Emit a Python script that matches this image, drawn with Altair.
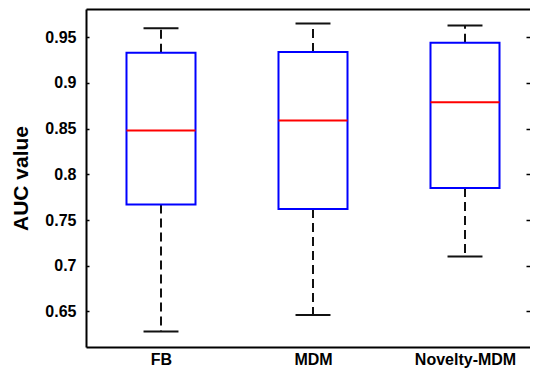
import altair as alt
import pandas as pd

# ---- data ----
methods = ["FB", "MDM", "Novelty-MDM"]
positions = [1, 2, 3]
whisker_low = [0.628, 0.646, 0.710]
q1 = [0.767, 0.762, 0.785]
median = [0.848, 0.859, 0.879]
q3 = [0.933, 0.934, 0.944]
whisker_high = [0.960, 0.965, 0.963]
y_ticks = [0.65, 0.7, 0.75, 0.8, 0.85, 0.9, 0.95]

df = pd.DataFrame({
    "method": methods,
    "pos": positions,
    "low": whisker_low,
    "q1": q1,
    "median": median,
    "q3": q3,
    "high": whisker_high,
})

W, H = 444, 338
STEP = 152.0
x_min = 1 - 75 / STEP
xscale = alt.Scale(domain=[x_min, x_min + W / STEP], nice=False, zero=False)
yscale = alt.Scale(domain=[0.611, 0.981], nice=False, zero=False)

FONT = "Liberation Sans"
label_expr = " : ".join(
    [f"datum.value == {p} ? '{m}'" for p, m in zip(positions[:-1], methods[:-1])]
    + [f"'{methods[-1]}'"]
)

x_bottom = alt.Axis(orient="bottom", values=positions, labelExpr=label_expr, ticks=False,
                    grid=False, domain=True, domainColor="black", domainWidth=2,
                    labelFont=FONT, labelFontSize=16, labelFontWeight="bold",
                    labelColor="black", labelPadding=4, title=None)
x_top = alt.Axis(orient="top", labels=False, ticks=False, grid=False, domain=True,
                 domainColor="black", domainWidth=2, title=None)
y_left = alt.Axis(orient="left", values=y_ticks, format=".2~f", ticks=False, grid=False,
                  domain=True, domainColor="black", domainWidth=2,
                  labelFont=FONT, labelFontSize=16, labelFontWeight="bold",
                  labelColor="black", labelPadding=10,
                  title="AUC value", titleFont=FONT, titleFontSize=21,
                  titleFontWeight="bold", titleColor="black", titlePadding=13)
y_in_left = alt.Axis(orient="right", offset=-W, values=y_ticks, labels=False, domain=False,
                     grid=False, ticks=True, tickSize=3, tickWidth=1.5, tickColor="black",
                     title=None)
y_right = alt.Axis(orient="right", offset=-4, values=y_ticks, labels=False, domain=False,
                   grid=False, ticks=True, tickSize=4, tickWidth=1.5, tickColor="black",
                   title=None)

base = alt.Chart(df).transform_calculate(
    box_l="datum.pos - 0.227",
    box_r="datum.pos + 0.227",
    cap_l="datum.pos - 0.115",
    cap_r="datum.pos + 0.115",
)

lower_whisker = base.mark_rule(color="#111111", strokeWidth=2, strokeDash=[9, 5]).encode(
    x=alt.X("pos:Q", scale=xscale, axis=x_bottom),
    y=alt.Y("q1:Q", scale=yscale, axis=y_left),
    y2="low:Q",
)
upper_whisker = base.mark_rule(color="#111111", strokeWidth=2, strokeDash=[9, 5]).encode(
    x=alt.X("pos:Q", scale=xscale, axis=x_top),
    y=alt.Y("q3:Q", scale=yscale, axis=y_in_left),
    y2="high:Q",
)
cap_low = base.mark_rule(color="#111111", strokeWidth=2).encode(
    x=alt.X("cap_l:Q", scale=xscale, axis=None),
    x2="cap_r:Q",
    y=alt.Y("low:Q", scale=yscale, axis=y_right),
)
cap_high = base.mark_rule(color="#111111", strokeWidth=2).encode(
    x=alt.X("cap_l:Q", scale=xscale, axis=None),
    x2="cap_r:Q",
    y=alt.Y("high:Q", scale=yscale, axis=None),
)
box = base.mark_bar(fill="white", stroke="#0000ff", strokeWidth=2).encode(
    x=alt.X("box_l:Q", scale=xscale, axis=None),
    x2="box_r:Q",
    y=alt.Y("q1:Q", scale=yscale, axis=None),
    y2="q3:Q",
)
med = base.mark_rule(color="#ff0000", strokeWidth=2).encode(
    x=alt.X("box_l:Q", scale=xscale, axis=None),
    x2="box_r:Q",
    y=alt.Y("median:Q", scale=yscale, axis=None),
)

chart = alt.layer(lower_whisker, upper_whisker, cap_low, cap_high, box, med).resolve_axis(
    x="independent", y="independent"
).properties(
    width=W,
    height=H,
    autosize=alt.AutoSizeParams(type="none"),
    padding={"left": 78, "top": 1, "right": 0, "bottom": 24},
    background="white",
).configure_view(stroke=None)

chart.save("out.html", embed_options={"renderer": "svg", "actions": False})
